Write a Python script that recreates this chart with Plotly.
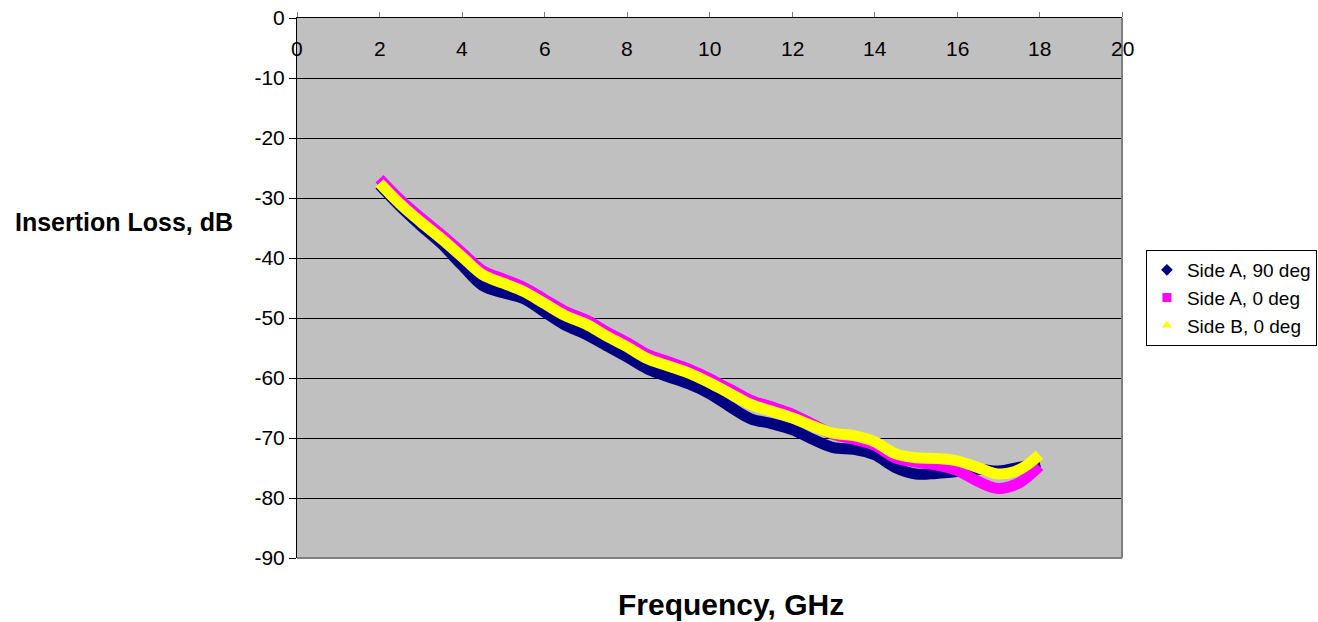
import plotly.graph_objects as go

freq = [2, 2.5, 3, 3.5, 4, 4.5, 5, 5.5, 6, 6.5, 7, 7.5, 8, 8.5, 9, 9.5, 10,
        10.5, 11, 11.5, 12, 12.5, 13, 13.5, 14, 14.5, 15, 15.5, 16, 16.5, 17, 17.5, 18]

side_a_90 = [-27.8, -31.4, -34.6, -37.6, -41.2, -44.6, -45.8, -46.8, -49.0, -51.2, -52.7,
             -54.6, -56.5, -58.5, -59.8, -61.0, -62.6, -64.8, -66.8, -67.6, -68.6, -70.2,
             -71.6, -71.9, -72.8, -74.9, -76.0, -75.9, -75.6, -75.2, -75.5, -74.9, -74.0]

side_a_0 = [-26.8, -30.3, -33.3, -36.1, -39.1, -42.1, -43.5, -44.9, -46.9, -48.9, -50.3,
            -52.3, -54.1, -56.1, -57.3, -58.5, -60.1, -61.9, -63.7, -64.8, -66.0, -67.7,
            -69.4, -70.2, -71.2, -73.3, -74.0, -74.5, -75.4, -77.2, -78.4, -77.5, -74.7]

side_b_0 = [-27.5, -31.0, -34.0, -36.8, -39.8, -42.8, -44.2, -45.6, -47.6, -49.6, -51.0,
            -53.0, -54.8, -56.8, -58.0, -59.2, -60.8, -62.6, -64.4, -65.5, -66.6, -68.0,
            -69.2, -69.6, -70.6, -72.6, -73.3, -73.4, -73.8, -74.9, -76.0, -75.3, -72.8]

series_names = ["Side A, 90 deg", "Side A, 0 deg", "Side B, 0 deg"]
series_values = [side_a_90, side_a_0, side_b_0]
series_colors = ["#000080", "#FF00FF", "#FFFF00"]
series_symbols = ["diamond", "square", "triangle-up"]

x_ticks = [0, 2, 4, 6, 8, 10, 12, 14, 16, 18, 20]
y_ticks = [0, -10, -20, -30, -40, -50, -60, -70, -80, -90]

fig = go.Figure()

for name, vals, col in zip(series_names, series_values, series_colors):
    fig.add_trace(go.Scatter(
        x=freq, y=vals, mode="lines", name=name, showlegend=False,
        line=dict(color=col, width=11, shape="spline", smoothing=1.0),
        hoverinfo="x+y+name",
    ))

for name, col, sym in zip(series_names, series_colors, series_symbols):
    fig.add_trace(go.Scatter(
        x=[None], y=[None], mode="markers", name=name, showlegend=True,
        marker=dict(color=col, symbol=sym, size=9, line=dict(width=0)),
    ))

# x tick labels drawn inside the plot, just below the top axis line
x_label_annotations = [
    dict(text=str(v), x=v, y=0, xref="x", yref="y", showarrow=False,
         xanchor="center", yanchor="middle", yshift=-30, font=dict(size=21))
    for v in x_ticks
]

fig.update_layout(
    width=1318, height=622,
    margin=dict(l=297, r=196, t=18, b=64, autoexpand=False),
    paper_bgcolor="white",
    plot_bgcolor="#C0C0C0",
    font=dict(family="Liberation Sans, Arial, sans-serif", color="black", size=21),
    legend=dict(
        x=1.029, xanchor="left", y=0.5704, yanchor="top",
        bgcolor="white", bordercolor="black", borderwidth=1,
        font=dict(size=19), itemwidth=30, tracegroupgap=0,
    ),
    xaxis=dict(
        range=[0, 20], tickvals=x_ticks, showticklabels=False,
        side="top", showline=True, linecolor="black", linewidth=1,
        ticks="outside", ticklen=5, tickcolor="#808080",
        showgrid=False, zeroline=False, fixedrange=True, automargin=False,
    ),
    yaxis=dict(
        range=[-90, 0], tickvals=y_ticks, ticktext=[str(v) for v in y_ticks],
        showline=True, linecolor="black", linewidth=1,
        ticks="outside", ticklen=7, tickcolor="black",
        showgrid=True, gridcolor="black", gridwidth=1,
        zeroline=False, fixedrange=True, automargin=False,
        tickfont=dict(size=21),
    ),
    shapes=[
        dict(type="line", xref="x domain", yref="y domain", x0=1, x1=1, y0=0, y1=1,
             line=dict(color="#808080", width=2)),
        dict(type="line", xref="x domain", yref="y domain", x0=0, x1=1, y0=0, y1=0,
             line=dict(color="#808080", width=2)),
    ],
    annotations=x_label_annotations + [
        dict(text="<b>Frequency, GHz</b>", xref="paper", yref="paper",
             x=0.5255, y=-0.087, xanchor="center", yanchor="middle",
             showarrow=False, font=dict(size=30)),
        dict(text="<b>Insertion Loss, dB</b>", xref="paper", yref="paper",
             x=-0.2097, y=0.6222, xanchor="center", yanchor="middle",
             showarrow=False, font=dict(size=25)),
    ],
)

fig.write_html(
    "out.html",
    config={"displayModeBar": False},
    post_script="document.body.style.margin='0';document.body.style.overflow='hidden';",
)
